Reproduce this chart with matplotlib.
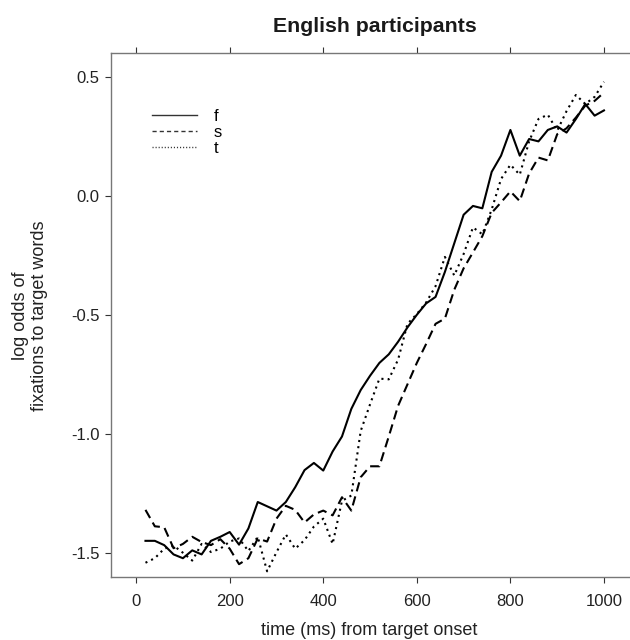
import matplotlib
matplotlib.use("Agg")
import matplotlib.pyplot as plt
from matplotlib.lines import Line2D
from matplotlib.ticker import FormatStrFormatter

plt.rcParams['font.family'] = ['Liberation Sans', 'DejaVu Sans']
plt.rcParams['axes.unicode_minus'] = False

# 时间窗（ms）
time_ms = [20, 40, 60, 80, 100, 120, 140, 160, 180, 200,
           220, 240, 260, 280, 300, 320, 340, 360, 380, 400,
           420, 440, 460, 480, 500, 520, 540, 560, 580, 600,
           620, 640, 660, 680, 700, 720, 740, 760, 780, 800,
           820, 840, 860, 880, 900, 920, 940, 960, 980, 1000]

f_vals = [-1.447, -1.447, -1.465, -1.504, -1.520, -1.487, -1.504, -1.447, -1.430, -1.410,
          -1.463, -1.395, -1.284, -1.302, -1.320, -1.284, -1.222, -1.150, -1.120, -1.152,
          -1.072, -1.009, -0.893, -0.814, -0.754, -0.700, -0.664, -0.611, -0.551, -0.498,
          -0.450, -0.423, -0.318, -0.198, -0.078, -0.041, -0.051, 0.102, 0.170, 0.278,
          0.170, 0.240, 0.230, 0.278, 0.293, 0.267, 0.324, 0.387, 0.338, 0.360]

s_vals = [-1.317, -1.386, -1.390, -1.478, -1.460, -1.430, -1.452, -1.465, -1.440, -1.480,
          -1.545, -1.520, -1.437, -1.450, -1.354, -1.300, -1.317, -1.370, -1.336, -1.320,
          -1.340, -1.264, -1.320, -1.180, -1.134, -1.134, -1.009, -0.880, -0.790, -0.700,
          -0.620, -0.536, -0.514, -0.393, -0.303, -0.236, -0.168, -0.070, -0.026, 0.020,
          -0.021, 0.095, 0.162, 0.150, 0.260, 0.285, 0.330, 0.380, 0.400, 0.435]

t_vals = [-1.539, -1.520, -1.480, -1.467, -1.497, -1.530, -1.460, -1.494, -1.480, -1.450,
          -1.437, -1.490, -1.430, -1.575, -1.495, -1.420, -1.480, -1.444, -1.387, -1.354,
          -1.460, -1.279, -1.257, -0.986, -0.874, -0.766, -0.769, -0.686, -0.536, -0.495,
          -0.446, -0.378, -0.255, -0.333, -0.243, -0.131, -0.160, -0.056, 0.072, 0.132,
          0.090, 0.230, 0.324, 0.342, 0.275, 0.357, 0.425, 0.387, 0.417, 0.480]

series_names = ['f', 's', 't']
x_ticks = [0, 200, 400, 600, 800, 1000]
y_ticks = [-1.5, -1.0, -0.5, 0.0, 0.5]

line_styles = ['-', (0, (4.5, 2.5)), (0, (1, 2))]
legend_styles = ['-', (0, (3, 2.2)), (0, (0.8, 1.4))]

fig = plt.figure(figsize=(6.3, 6.4), dpi=100)
ax = fig.add_axes([0.1767, 0.098, 0.8362, 0.8188])

for vals, ls in zip([f_vals, s_vals, t_vals], line_styles):
    ax.plot(time_ms, vals, color='black', lw=1.5, linestyle=ls)

ax.set_xlim(-53, 1073)
ax.set_ylim(-1.6, 0.6)
ax.set_xticks(x_ticks)
ax.set_yticks(y_ticks)
ax.yaxis.set_major_formatter(FormatStrFormatter('%.1f'))

for sp in ax.spines.values():
    sp.set_color('#777777')
    sp.set_linewidth(1.0)

ax.tick_params(direction='out', length=4.3, width=0.8, color='#333333',
               labelsize=12, labelcolor='#222222', pad=4,
               top=True, right=True, labeltop=False, labelright=False)
ax.tick_params(axis='x', pad=8)

ax.set_title('English participants', fontsize=15.3, fontweight='bold',
             color='#1a1a1a', pad=15)
ax.set_xlabel('time (ms) from target onset', fontsize=13, color='#222222')
ax.xaxis.set_label_coords(0.49, -0.085)
ax.set_ylabel('log odds of\nfixations to target words', fontsize=13,
              color='#222222', linespacing=1.15)
ax.yaxis.set_label_coords(-0.12, 0.5)

handles = [Line2D([], [], color='#333333', lw=1.0, linestyle=ls) for ls in legend_styles]
leg = ax.legend(handles, series_names, loc='upper left', bbox_to_anchor=(0.0776, 0.8935),
                frameon=False, fontsize=12, handlelength=2.7, handletextpad=1.0,
                labelspacing=0.06, borderaxespad=0, borderpad=0)

fig.savefig('out.png', dpi=100)
